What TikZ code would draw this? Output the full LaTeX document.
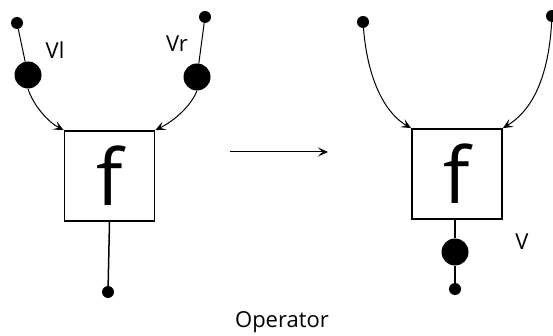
\documentclass[tikz,border=0pt]{standalone}
\usepackage{fontspec}
\setmainfont{Open Sans}
\usetikzlibrary{arrows.meta}
\begin{document}
\begin{tikzpicture}[x=1pt,y=-1pt,
  box/.style={draw,line width=1.8pt,minimum width=90pt,minimum height=90pt,inner sep=0pt,font=\fontsize{78}{78}\selectfont},
  sdot/.style={circle,fill,inner sep=0pt,minimum size=12pt},
  bdot/.style={circle,fill,inner sep=0pt,minimum size=27pt},
  lab/.style={font=\fontsize{22}{22}\selectfont},
  wire/.style={line width=1pt},
  arr/.style={wire,-{Stealth[length=10pt,width=9pt,inset=4.5pt]}}]
\useasboundingbox (0,0) rectangle (553,336);
% left
\node[box] (fl) at (109.5,176) {f};
\node[sdot] (tl1) at (17,23) {};
\node[bdot] (bl1) at (28,75) {};
\node[sdot] (tr1) at (205,17) {};
\node[bdot] (br1) at (197,77) {};
\node[sdot] (bo1) at (108,292) {};
\node[lab] (vl) at (55,50) {Vl};
\node[lab] (vr) at (177,44) {Vr};
\draw[wire] (tl1) -- (bl1);
\draw[wire] (tr1) -- (br1);
\draw[arr] (bl1.south) .. controls (33,105) and (48,122) .. (fl.north west);
\draw[arr] (br1.south) .. controls (190,108) and (172,122) .. (fl.north east);
\draw[line width=1.5pt] (fl.south) -- (bo1);
% middle
\coordinate (ma) at (230,152);
\coordinate (mb) at (328,152);
\draw[arr] (ma) -- (mb);
% right
\node[box] (fr) at (457,174) {f};
\node[sdot] (tl2) at (363,22) {};
\node[sdot] (tr2) at (552,16) {};
\node[bdot] (bv) at (455,252) {};
\node[sdot] (bo2) at (455,289) {};
\node[lab] (v) at (522,242) {V};
\draw[arr] (tl2) .. controls (368,85) and (388,115) .. (fr.north west);
\draw[arr] (tr2) .. controls (548,85) and (528,113) .. (fr.north east);
\draw[line width=1.5pt] (fr.south -| bv) -- (bv) -- (bo2);
\node[lab] (op) at (282,322) {Operator};
\end{tikzpicture}
\end{document}
